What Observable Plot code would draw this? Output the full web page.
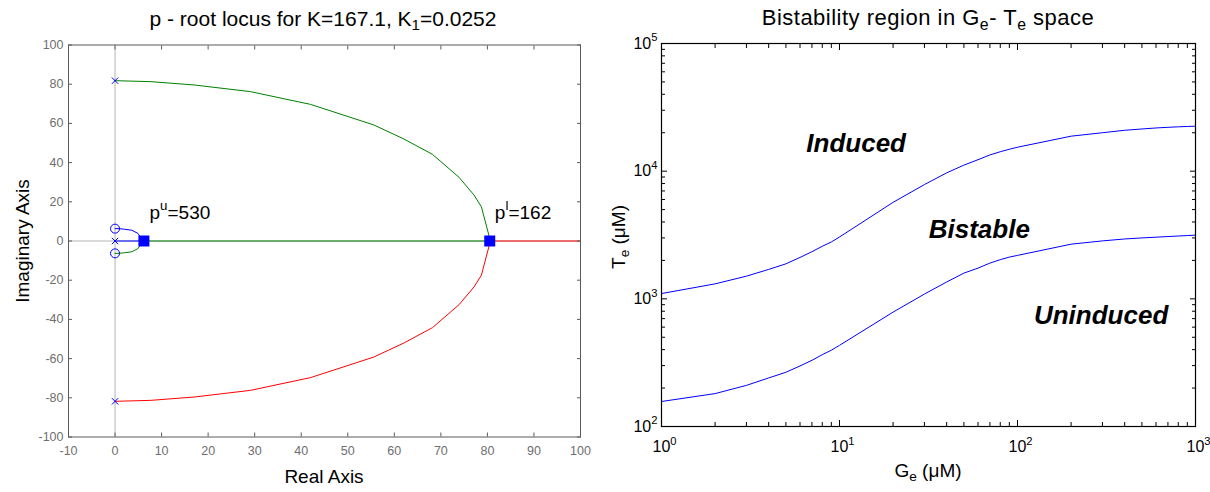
<!DOCTYPE html>
<html><head><meta charset="utf-8">
<script src="https://cdn.jsdelivr.net/npm/d3@7"></script>
<script src="https://cdn.jsdelivr.net/npm/@observablehq/plot@0.6"></script>
<style>
body{margin:0;background:#fff;font-family:"Liberation Sans",Arial,sans-serif;}
#wrap{position:relative;width:1210px;height:492px;overflow:hidden;background:#fff;}
.panel{position:absolute;top:0;}
.lbl{position:absolute;white-space:nowrap;color:#000;font-size:19px;line-height:1;}
.rot{transform:translate(-50%,-50%) rotate(-90deg);}
.ctr{transform:translate(-50%,-50%);}
sub{font-size:72%;line-height:0;vertical-align:-0.3em;}
</style></head><body>
<div id="wrap">
  <div class="panel" id="left" style="left:0"></div>
  <div class="panel" id="right" style="left:605px"></div>
  <div class="lbl ctr" style="left:323px;top:18px;font-size:21px">p - root locus for K=167.1, K<sub>1</sub>=0.0252</div>
  <div class="lbl ctr" style="left:928px;top:18px;font-size:22px;letter-spacing:0.5px">Bistability region in G<sub>e</sub>- T<sub>e</sub> space</div>
  <div class="lbl rot" style="left:22px;top:241px">Imaginary Axis</div>
  <div class="lbl ctr" style="left:324px;top:476px">Real Axis</div>
  <div class="lbl rot" style="left:618px;top:237px">T<sub>e</sub> (μM)</div>
  <div class="lbl ctr" style="left:928px;top:470px">G<sub>e</sub> (μM)</div>
</div>
<script>
// ---------- Left panel: root locus ----------
const branchRe   = [0, 7.7, 17.0, 29.1, 42.0, 55.6, 62.1, 68.2, 73.9, 77.1, 78.7, 80.3, 80.5];
const branchUpIm = [81.8, 81.3, 79.6, 76.2, 69.7, 59.2, 52.0, 44.2, 32.5, 23.5, 17.5, 3.1, 0];
const branchLoIm = [-81.8, -81.3, -79.6, -76.2, -69.7, -59.2, -52.0, -44.2, -32.5, -23.5, -17.5, -3.1, 0];
const arcRe   = [0, 0.9, 2.0, 3.6, 4.9, 5.5, 6.2];
const arcUpIm = [6.3, 6.3, 6.0, 5.5, 3.9, 1.9, 0];
const arcLoIm = [-6.3, -6.3, -6.0, -5.5, -3.9, -1.9, 0];
const realBlueRe  = [0, 6.2];
const realGreenRe = [6.2, 80.5];
const realRedRe   = [80.5, 100];
const polesRe = [0, 0, 0];
const polesIm = [81.8, 0, -81.8];
const zerosRe = [0, 0];
const zerosIm = [6.3, -6.3];
const breakRe = [6.2, 80.5];
const breakIm = [0, 0];
const breakText = ["p^{u}=530", "p^{l}=162"];
const breakTextRe = [7.4, 81.6];
const breakTextIm = [14.5, 14.5];
const xTicksL = [-10, 0, 10, 20, 30, 40, 50, 60, 70, 80, 90, 100];
const yTicksL = [-100, -80, -60, -40, -20, 0, 20, 40, 60, 80, 100];

// ---------- Right panel: bistability region ----------
const geValues = [1,2,3,4,5,6,7,8,9,10,20,30,40,50,60,70,80,90,100,200,300,400,500,600,700,800,900,1000];
const teUpper  = [1100,1310,1505,1700,1880,2110,2340,2580,2790,3050,5700,7850,9700,11150,12300,13400,14200,14850,15400,18800,20000,20900,21400,21800,22050,22250,22400,22500];
const teLower  = [157,181,210,240,266,298,330,365,396,432,787,1090,1355,1590,1740,1905,2027,2123,2189,2680,2843,2944,3000,3040,3075,3105,3130,3155];
const regionText = ["Induced", "Bistable", "Uninduced"];
const regionGe = [12.4, 61, 295];
const regionTe = [16500, 3450, 740];
const majorX = [1, 10, 100, 1000];
const minorX = [2,3,4,5,6,7,8,9,20,30,40,50,60,70,80,90,200,300,400,500,600,700,800,900];
const majorY = [100, 1000, 10000, 100000];
const minorY = [200,300,400,500,600,700,800,900,2000,3000,4000,5000,6000,7000,8000,9000,20000,30000,40000,50000,60000,70000,80000,90000];

const pts = (xs, ys) => xs.map((x, i) => ({x, y: ys[i]}));
const FONT = "'Liberation Sans', Arial, sans-serif";
const GREEN = "#008000", RED = "#ff0000", BLUE = "#0000ff", GRAY = "#5a5a5a", TGRAY = "#6e6e6e", LGRAY = "#b4b4b4";

const left = Plot.plot({
  width: 605, height: 492,
  marginLeft: 68, marginRight: 25, marginTop: 44.5, marginBottom: 55.5,
  x: {domain: [-10, 100], label: null},
  y: {domain: [-100, 100], label: null},
  style: {fontFamily: FONT, fontSize: "12.5px", background: "white", overflow: "visible"},
  marks: [
    Plot.ruleX([0], {stroke: LGRAY}),
    Plot.ruleY([0], {stroke: LGRAY}),
    Plot.line(pts(branchRe, branchUpIm), {x: "x", y: "y", stroke: GREEN, strokeWidth: 1}),
    Plot.line(pts(branchRe, branchLoIm), {x: "x", y: "y", stroke: RED, strokeWidth: 1}),
    Plot.line(pts(realGreenRe, [0, 0]), {x: "x", y: "y", stroke: GREEN, strokeWidth: 1}),
    Plot.line(pts(realRedRe, [0, 0]), {x: "x", y: "y", stroke: RED, strokeWidth: 1}),
    Plot.line(pts(realBlueRe, [0, 0]), {x: "x", y: "y", stroke: BLUE, strokeWidth: 1}),
    Plot.line(pts(arcRe, arcUpIm), {x: "x", y: "y", stroke: BLUE, strokeWidth: 1}),
    Plot.line(pts(arcRe, arcLoIm), {x: "x", y: "y", stroke: GREEN, strokeWidth: 1}),
    Plot.dot(pts(polesRe, polesIm), {x: "x", y: "y", symbol: "times", r: 3, stroke: BLUE, strokeWidth: 1}),
    Plot.dot(pts(zerosRe, zerosIm), {x: "x", y: "y", symbol: "circle", r: 4.5, stroke: BLUE, fill: "none", strokeWidth: 1}),
    Plot.dot(pts(breakRe, breakIm), {x: "x", y: "y", symbol: "square", r: 6.2, fill: BLUE, stroke: "none"}),
    Plot.text(breakText.map((t, i) => ({t, x: breakTextRe[i], y: breakTextIm[i]})),
      {x: "x", y: "y", text: "t", textAnchor: "start", fontSize: 19, fill: "black"}),
    Plot.axisX(xTicksL, {anchor: "bottom", tickSize: 0, tickPadding: 9, tickFormat: d => String(d), fill: TGRAY}),
    Plot.axisX(xTicksL, {anchor: "bottom", tickSize: 4, dy: -4, fill: "none", stroke: GRAY}),
    Plot.axisX(xTicksL, {anchor: "top", tickSize: 4, dy: 4, fill: "none", stroke: GRAY}),
    Plot.axisY(yTicksL, {anchor: "left", tickSize: 0, tickPadding: 5, tickFormat: d => String(d), fill: TGRAY}),
    Plot.axisY(yTicksL, {anchor: "left", tickSize: 4, dx: 4, fill: "none", stroke: GRAY}),
    Plot.axisY(yTicksL, {anchor: "right", tickSize: 4, dx: -4, fill: "none", stroke: GRAY}),
    Plot.frame({stroke: GRAY})
  ]
});

const expFmt = d => `10^{${Math.round(Math.log10(d))}}`;
const right = Plot.plot({
  width: 605, height: 492,
  marginLeft: 56, marginRight: 15, marginTop: 43, marginBottom: 66,
  x: {type: "log", domain: [1, 1000], label: null},
  y: {type: "log", domain: [100, 100000], label: null},
  style: {fontFamily: FONT, fontSize: "16px", background: "white", overflow: "visible"},
  marks: [
    Plot.line(pts(geValues, teUpper), {x: "x", y: "y", stroke: BLUE, strokeWidth: 1}),
    Plot.line(pts(geValues, teLower), {x: "x", y: "y", stroke: BLUE, strokeWidth: 1}),
    Plot.text(regionText.map((t, i) => ({t, x: regionGe[i], y: regionTe[i]})),
      {x: "x", y: "y", text: "t", fontSize: 26, fontWeight: "bold", fontStyle: "italic", fill: "black"}),
    Plot.axisX(majorX, {anchor: "bottom", tickSize: 0, tickPadding: 14, dx: 3, tickFormat: expFmt, fill: "black"}),
    Plot.axisY(majorY, {anchor: "left", tickSize: 0, tickPadding: 4, tickFormat: expFmt, fill: "black"}),
    Plot.axisX(majorX, {anchor: "bottom", tickSize: 6, dy: -6, fill: "none", stroke: "black"}),
    Plot.axisX(minorX, {anchor: "bottom", tickSize: 4, dy: -4, fill: "none", stroke: "black"}),
    Plot.axisX(majorX, {anchor: "top", tickSize: 6, dy: 6, fill: "none", stroke: "black"}),
    Plot.axisX(minorX, {anchor: "top", tickSize: 4, dy: 4, fill: "none", stroke: "black"}),
    Plot.axisY(majorY, {anchor: "left", tickSize: 6, dx: 6, fill: "none", stroke: "black"}),
    Plot.axisY(minorY, {anchor: "left", tickSize: 4, dx: 4, fill: "none", stroke: "black"}),
    Plot.axisY(majorY, {anchor: "right", tickSize: 6, dx: -6, fill: "none", stroke: "black"}),
    Plot.axisY(minorY, {anchor: "right", tickSize: 4, dx: -4, fill: "none", stroke: "black"}),
    Plot.frame({stroke: "black", strokeWidth: 1.2})
  ]
});

document.getElementById("left").appendChild(left);
document.getElementById("right").appendChild(right);

function richify(root) {
  const NS = "http://www.w3.org/2000/svg";
  root.querySelectorAll("text").forEach(t => {
    const s = t.textContent;
    if (!/[\^_]\{/.test(s)) return;
    const fs = parseFloat(getComputedStyle(t).fontSize) || 16;
    t.textContent = "";
    const re = /([\^_])\{([^}]*)\}|([^\^_]+)/g;
    let m, cur = 0;
    while ((m = re.exec(s))) {
      const ts = document.createElementNS(NS, "tspan");
      let target = 0;
      if (m[1]) {
        target = m[1] === "^" ? -0.45 * fs : 0.28 * fs;
        ts.setAttribute("font-size", (0.7 * fs).toFixed(1));
        ts.textContent = m[2];
      } else ts.textContent = m[3];
      if (target !== cur) ts.setAttribute("dy", (target - cur).toFixed(1));
      cur = target;
      t.appendChild(ts);
    }
  });
}
richify(left);
richify(right);
</script>
</body></html>
